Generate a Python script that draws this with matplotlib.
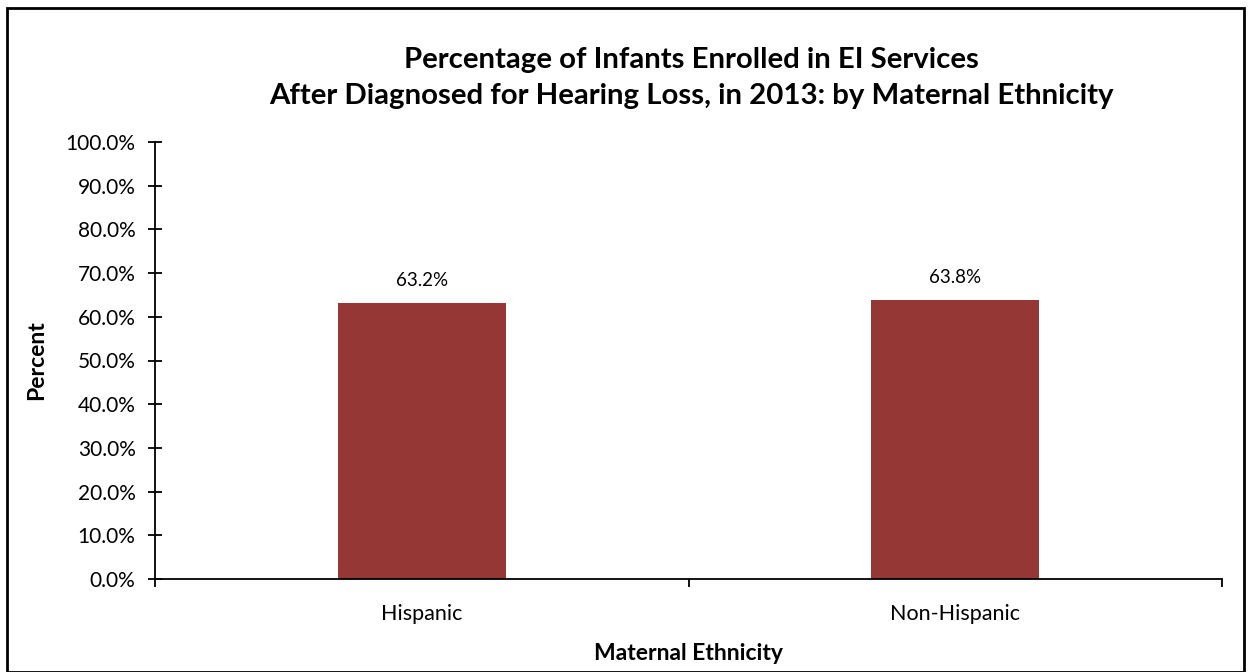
import matplotlib
matplotlib.use("Agg")
import matplotlib.pyplot as plt
from matplotlib.patches import Rectangle
from matplotlib.ticker import FuncFormatter, MultipleLocator

categories = ["Hispanic", "Non-Hispanic"]
values = [63.2, 63.8]
title = "Percentage of Infants Enrolled in EI Services\nAfter Diagnosed for Hearing Loss, in 2013: by Maternal Ethnicity"

plt.rcParams['font.family'] = ['Lato', 'DejaVu Sans']

fig = plt.figure(figsize=(12.52, 6.72), dpi=100)
ax = fig.add_axes([155/1252, 1-579/672, (1222-155)/1252, (579-142)/672])

x = list(range(len(categories)))
ax.bar(x, values, width=0.315, color="#953735", zorder=2)
for xi, v in zip(x, values):
    ax.annotate(f"{v:.1f}%", (xi, v), xytext=(0, 10), textcoords="offset points",
                ha="center", va="bottom", fontsize=13.5)

ax.set_xlim(-0.5, 1.5)
ax.set_ylim(0, 100)
ax.yaxis.set_major_locator(MultipleLocator(10))
ax.yaxis.set_major_formatter(FuncFormatter(lambda v, p: f"{v:.1f}%"))
ax.set_xticks(x)
ax.set_xticklabels(categories)
ax.set_xticks([-0.5, 0.5, 1.5], minor=True)
ax.tick_params(axis="x", which="major", length=0, pad=18, labelsize=15.5)
ax.tick_params(axis="x", which="minor", length=6, width=1.3, direction="out")
ax.tick_params(axis="y", which="major", length=10, width=1.3, direction="inout", pad=9, labelsize=15)

for s in ["top", "right"]:
    ax.spines[s].set_visible(False)
for s in ["left", "bottom"]:
    ax.spines[s].set_linewidth(1.3)

ax.set_xlabel("Maternal Ethnicity", fontsize=16.5, fontweight="bold", labelpad=14)
ax.set_ylabel("Percent", fontsize=16.5, fontweight="bold", labelpad=13)
fig.text(691/1252, 1-78/672, title, ha="center", va="center", fontsize=21.2,
         fontweight="bold", linespacing=1.45)

fig.patches.append(Rectangle((7/1252, 0), (1244-7)/1252, 1-8/672, transform=fig.transFigure,
                             fill=False, edgecolor="black", linewidth=2))

fig.savefig("out.png", dpi=100)
